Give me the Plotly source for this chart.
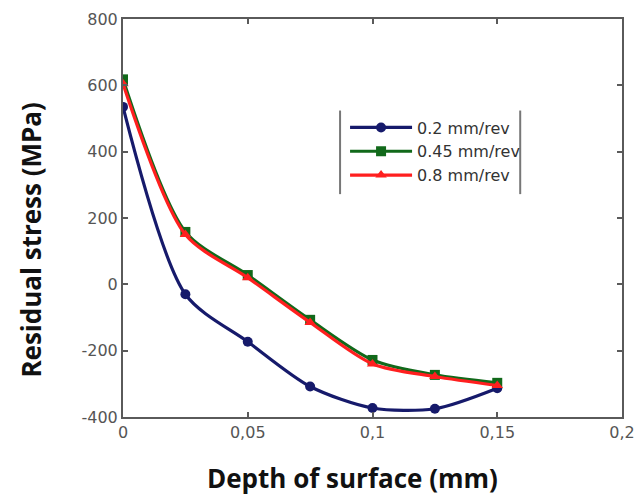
import plotly.graph_objects as go

# Depth below the machined surface (mm)
depth = [0, 0.025, 0.05, 0.075, 0.1, 0.125, 0.15]

# Residual stress (MPa) for each feed rate
stress_02 = [535, -30, -173, -308, -373, -375, -313]
stress_045 = [618, 158, 28, -107, -228, -273, -297]
stress_08 = [605, 150, 20, -115, -240, -278, -305]

series = [
    ("0.2 mm/rev", stress_02, "#161a6b", "circle"),
    ("0.45 mm/rev", stress_045, "#11691a", "square"),
    ("0.8 mm/rev", stress_08, "#ff1f1f", "triangle-up"),
]

x_ticks = [0, 0.05, 0.1, 0.15, 0.2]
x_tick_text = ["0", "0,05", "0,1", "0,15", "0,2"]
y_ticks = [-400, -200, 0, 200, 400, 600, 800]
y_tick_text = ["-400", "-200", "0", "200", "400", "600", "800"]

fig = go.Figure()
for name, vals, color, symbol in series:
    fig.add_trace(go.Scatter(
        x=depth, y=vals, name=name, mode="lines+markers",
        line=dict(color=color, width=3.2, shape="spline", smoothing=0.8),
        marker=dict(symbol=symbol, size=10, color=color),
    ))

axis_common = dict(
    showline=True, linecolor="#5a5a5a", linewidth=2, mirror="allticks",
    ticks="inside", ticklen=5, tickwidth=1.5, tickcolor="#5a5a5a",
    showgrid=False, zeroline=False, automargin=False,
    tickfont=dict(family="DejaVu Sans", size=16, color="#555555"),
)

fig.update_layout(
    width=636, height=499,
    margin=dict(l=123, r=14, t=19, b=82, autoexpand=False),
    paper_bgcolor="white", plot_bgcolor="white",
    xaxis=dict(range=[0, 0.2], tickvals=x_ticks, ticktext=x_tick_text, **axis_common),
    yaxis=dict(range=[-400, 800], tickvals=y_ticks, ticktext=y_tick_text, **axis_common),
    showlegend=True,
    legend=dict(
        x=0.445, y=0.77, xanchor="left", yanchor="top",
        bgcolor="rgba(0,0,0,0)", borderwidth=0,
        font=dict(family="DejaVu Sans", size=16, color="#333333"),
        itemwidth=62, tracegroupgap=0,
    ),
    shapes=[
        dict(type="line", xref="paper", yref="paper", x0=0.435, x1=0.435, y0=0.56, y1=0.77,
             line=dict(color="#777777", width=2)),
        dict(type="line", xref="paper", yref="paper", x0=0.796, x1=0.796, y0=0.56, y1=0.77,
             line=dict(color="#777777", width=2)),
    ],
    annotations=[
        dict(text="<b>Depth of surface (mm)</b>", xref="paper", yref="paper",
             x=0.459, y=-0.153, xanchor="center", yanchor="middle", showarrow=False,
             font=dict(family="Open Sans", size=26, color="#111111")),
        dict(text="<b>Residual stress (MPa)</b>", xref="paper", yref="paper",
             x=-0.185, y=0.445, xanchor="center", yanchor="middle", showarrow=False, textangle=-90,
             font=dict(family="Open Sans", size=26, color="#111111")),
    ],
)

fig.write_html("out.html")
